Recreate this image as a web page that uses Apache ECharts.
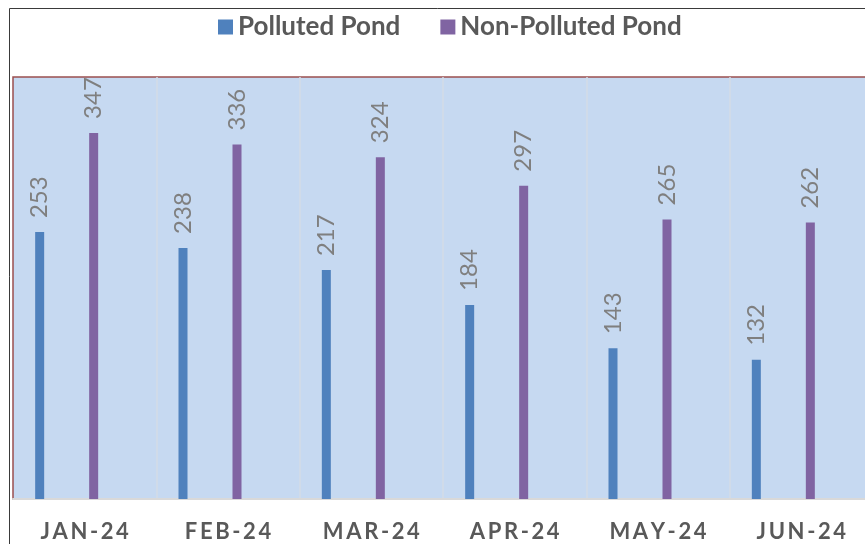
<!DOCTYPE html>
<html>
<head>
<meta charset="utf-8">
<script src="https://cdn.jsdelivr.net/npm/echarts@6/dist/echarts.min.js"></script>
<style>
html,body{margin:0;padding:0;background:#fff;}
#chart{width:865px;height:544px;}
</style>
</head>
<body>
<div id="chart"></div>
<script>
var months = ['JAN-24','FEB-24','MAR-24','APR-24','MAY-24','JUN-24'];
var polluted = [253, 238, 217, 184, 143, 132];
var nonPolluted = [347, 336, 324, 297, 265, 262];

var myChart = echarts.init(document.getElementById('chart'));

// rotated value labels above each bar
function barLabel(){
	return {
		show: true,
		position: 'top',
		rotate: 90,
		align: 'left',
		verticalAlign: 'middle',
		distance: 14,
		color: '#7f7f7f',
		fontSize: 24,
		fontFamily: 'Lato'
	};
}

// spaced-out month letters, like the excel axis
function spaced(v){
	return v.split('').map(function(c){ return '{c|' + c + '}'; }).join('');
}

myChart.setOption({
	animation: false,
	graphic: [{
		type: 'rect',
		shape: {x: 9.5, y: 8.5, width: 900, height: 600},
		style: {fill: 'none', stroke: '#3a3a3a', lineWidth: 1},
		z: 100
	}],
	legend: {
		data: ['Polluted Pond', 'Non-Polluted Pond'],
		left: 213,
		top: 9,
		itemWidth: 15,
		itemHeight: 15,
		itemGap: 40,
		icon: 'rect',
		textStyle: {
			color: '#595959',
			fontSize: 26,
			fontWeight: 'bold',
			fontFamily: 'Lato'
		}
	},
	grid: {
		left: 13,
		top: 77,
		width: 860,
		bottom: 45,
		outerBoundsMode: 'none',
		show: true,
		backgroundColor: '#C6D9F1',
		borderColor: '#9a4f4f',
		borderWidth: 1.5
	},
	xAxis: {
		type: 'category',
		data: months,
		axisLine: {lineStyle: {color: '#d9d9d9', width: 2}},
		axisTick: {show: false},
		splitLine: {
			show: true,
			interval: 0,
			showMinLine: false,
			lineStyle: {color: '#d3dbe6', width: 1.5}
		},
		axisLabel: {
			interval: 0,
			margin: 22,
			formatter: spaced,
			rich: {
				c: {
					color: '#595959',
					fontSize: 22,
					fontWeight: 'bold',
					fontFamily: 'Lato',
					padding: [0, 1.3]
				}
			}
		}
	},
	yAxis: {
		type: 'value',
		min: 0,
		max: 400,
		show: false
	},
	series: [
		{
			name: 'Polluted Pond',
			type: 'bar',
			data: polluted,
			barWidth: 9,
			barGap: '0%',
			itemStyle: {color: '#4F81BD'},
			label: barLabel()
		},
		{
			// empty spacer keeps the Excel-like offset between the two bars
			name: 'spacer1',
			type: 'bar',
			data: [],
			barWidth: 45,
			barGap: '0%'
		},
		{
			name: 'Non-Polluted Pond',
			type: 'bar',
			data: nonPolluted,
			barWidth: 9,
			barGap: '0%',
			itemStyle: {color: '#8064A2'},
			label: barLabel()
		},
		{
			name: 'spacer2',
			type: 'bar',
			data: [],
			barWidth: 36,
			barGap: '0%'
		}
	]
});
</script>
</body>
</html>
